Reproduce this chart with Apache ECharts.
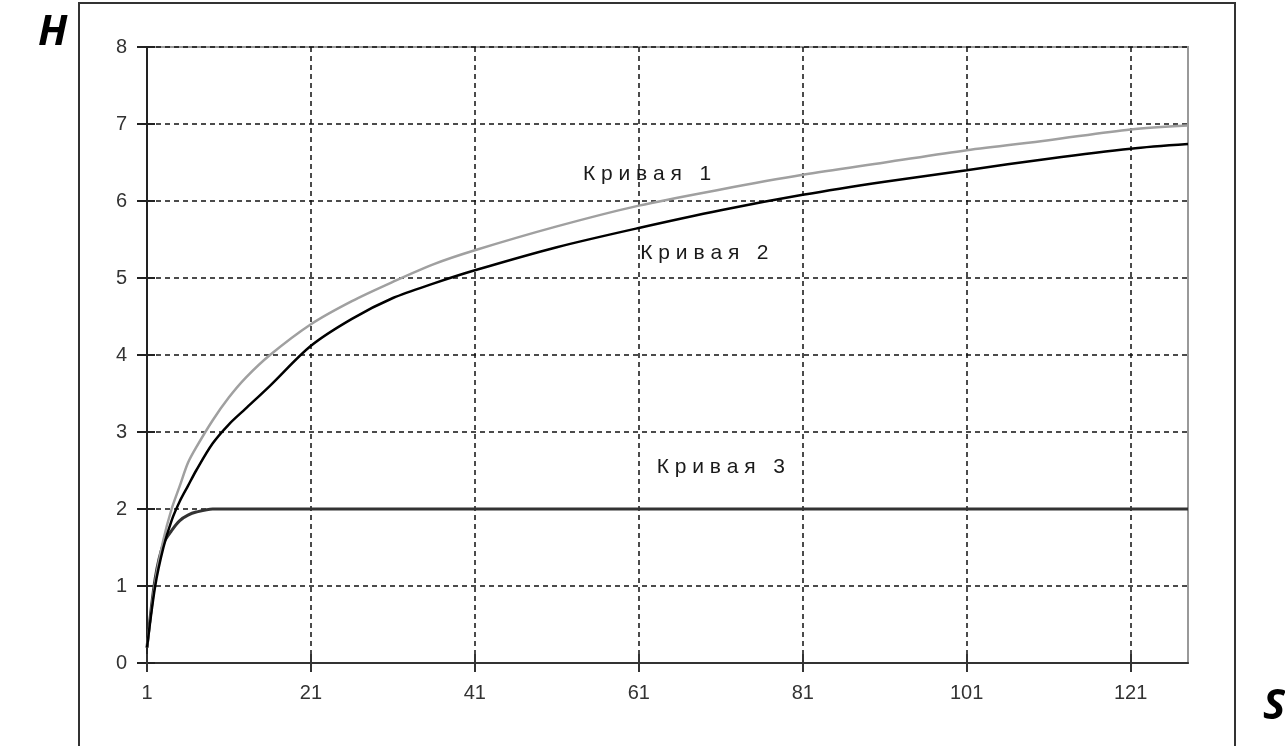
<!DOCTYPE html>
<html>
<head>
    <meta charset="UTF-8">
    <title>H(S)</title>
    <style>
        html, body { margin: 0; padding: 0; background: #fff; }
        #container { width: 1285px; height: 746px; }
    </style>
</head>
<body>
    <div id="container"></div>
    <script src="https://cdn.jsdelivr.net/npm/echarts@6/dist/echarts.min.js"></script>
    <script>
        // categories along S: 1..128
        var categories = [];
        for (var i = 1; i <= 128; i++) categories.push(String(i));

        var sPoints = [1, 2, 3, 4, 5, 6, 7, 9, 11, 13, 16, 21, 26, 31, 36, 41, 51, 61, 71, 81, 91, 101, 111, 121, 128];
        var curve1 = [0.2, 1.05, 1.6, 2.0, 2.3, 2.6, 2.8, 3.15, 3.45, 3.7, 4.0, 4.4, 4.7, 4.95, 5.18, 5.36, 5.67, 5.94, 6.15, 6.34, 6.5, 6.66, 6.79, 6.93, 6.98];
        var curve2 = [0.2, 1.0, 1.5, 1.85, 2.1, 2.3, 2.5, 2.85, 3.1, 3.3, 3.6, 4.12, 4.47, 4.74, 4.93, 5.1, 5.4, 5.65, 5.88, 6.08, 6.25, 6.4, 6.55, 6.68, 6.74];
        var curve3 = [0.2, 1.1, 1.55, 1.72, 1.85, 1.92, 1.96, 2.0, 2.0, 2.0, 2.0, 2.0, 2.0, 2.0, 2.0, 2.0, 2.0, 2.0, 2.0, 2.0, 2.0, 2.0, 2.0, 2.0, 2.0];
        var curveNames = ['Кривая 1', 'Кривая 2', 'Кривая 3'];
        // where the curve names sit, [S, H]
        var labelPos = [['62', 6.35], ['69', 5.32], ['71', 2.54]];
        var yTicks = [0, 8, 1];

        function pairs(vals) {
            return sPoints.map(function (s, k) { return [String(s), vals[k]]; });
        }

        function makeSeries(name, vals, color, width, pos) {
            return {
                name: name,
                type: 'line',
                data: pairs(vals),
                smooth: 0.3,
                showSymbol: false,
                symbol: 'none',
                lineStyle: { color: color, width: width },
                markPoint: {
                    symbol: 'circle',
                    symbolSize: 0,
                    silent: true,
                    data: [{
                        coord: pos,
                        label: {
                            show: true,
                            position: 'inside',
                            formatter: name.split('').join(' '),
                            color: '#1a1a1a',
                            fontFamily: 'Liberation Sans, Arial',
                            fontSize: 21
                        }
                    }]
                },
                z: 5
            };
        }

        var axisFont = { color: '#333', fontFamily: 'Liberation Sans, Arial', fontSize: 20 };

        var chart = echarts.init(document.getElementById('container'));
        chart.setOption({
            animation: false,
            backgroundColor: '#fff',
            grid: {
                left: 147, top: 47, width: 1041, height: 616,
                show: true, borderColor: '#999', borderWidth: 2, backgroundColor: '#fff'
            },
            xAxis: [{
                type: 'category',
                data: categories,
                boundaryGap: false,
                axisLine: { lineStyle: { color: '#333', width: 2 } },
                axisTick: { interval: 19, length: 9, lineStyle: { color: '#333', width: 2 } },
                axisLabel: Object.assign({ interval: 19, margin: 20 }, axisFont),
                splitLine: { show: true, interval: 19, lineStyle: { color: '#111', type: [5, 4], width: 1.5 } }
            }, {
                type: 'category',
                data: categories,
                boundaryGap: false,
                position: 'bottom',
                axisLine: { show: false },
                axisTick: { interval: 19, inside: true, length: 9, lineStyle: { color: '#333', width: 2 } },
                axisLabel: { show: false },
                splitLine: { show: false }
            }],
            yAxis: [{
                type: 'value',
                min: yTicks[0], max: yTicks[1], interval: yTicks[2],
                axisLine: { show: true, lineStyle: { color: '#222', width: 2 } },
                axisTick: { show: true, length: 10, lineStyle: { color: '#222', width: 2 } },
                axisLabel: Object.assign({ margin: 20 }, axisFont),
                splitLine: { show: true, lineStyle: { color: '#111', type: [5, 4], width: 1.5 } }
            }, {
                type: 'value',
                position: 'left',
                min: yTicks[0], max: yTicks[1], interval: yTicks[2],
                axisLine: { show: false },
                axisTick: { show: true, inside: true, length: 8, lineStyle: { color: '#222', width: 2 } },
                axisLabel: { show: false },
                splitLine: { show: false }
            }],
            graphic: [
                {
                    type: 'rect',
                    shape: { x: 79, y: 3, width: 1156, height: 760 },
                    style: { fill: null, stroke: '#333', lineWidth: 2 },
                    silent: true, z: -10
                },
                {
                    type: 'text', left: 38, top: 12,
                    style: { text: 'H', fontSize: 42, fontWeight: 'bold', fontStyle: 'italic', fontFamily: 'Open Sans, DejaVu Sans', fill: '#000' }
                },
                {
                    type: 'text', left: 1263, top: 686,
                    style: { text: 'S', fontSize: 42, fontWeight: 'bold', fontStyle: 'italic', fontFamily: 'Open Sans, DejaVu Sans', fill: '#000' }
                }
            ],
            series: [
                makeSeries(curveNames[2], curve3, '#333', 3, labelPos[2]),
                makeSeries(curveNames[0], curve1, '#a0a0a0', 2.5, labelPos[0]),
                makeSeries(curveNames[1], curve2, '#000', 2.5, labelPos[1])
            ]
        });
    </script>
</body>
</html>
